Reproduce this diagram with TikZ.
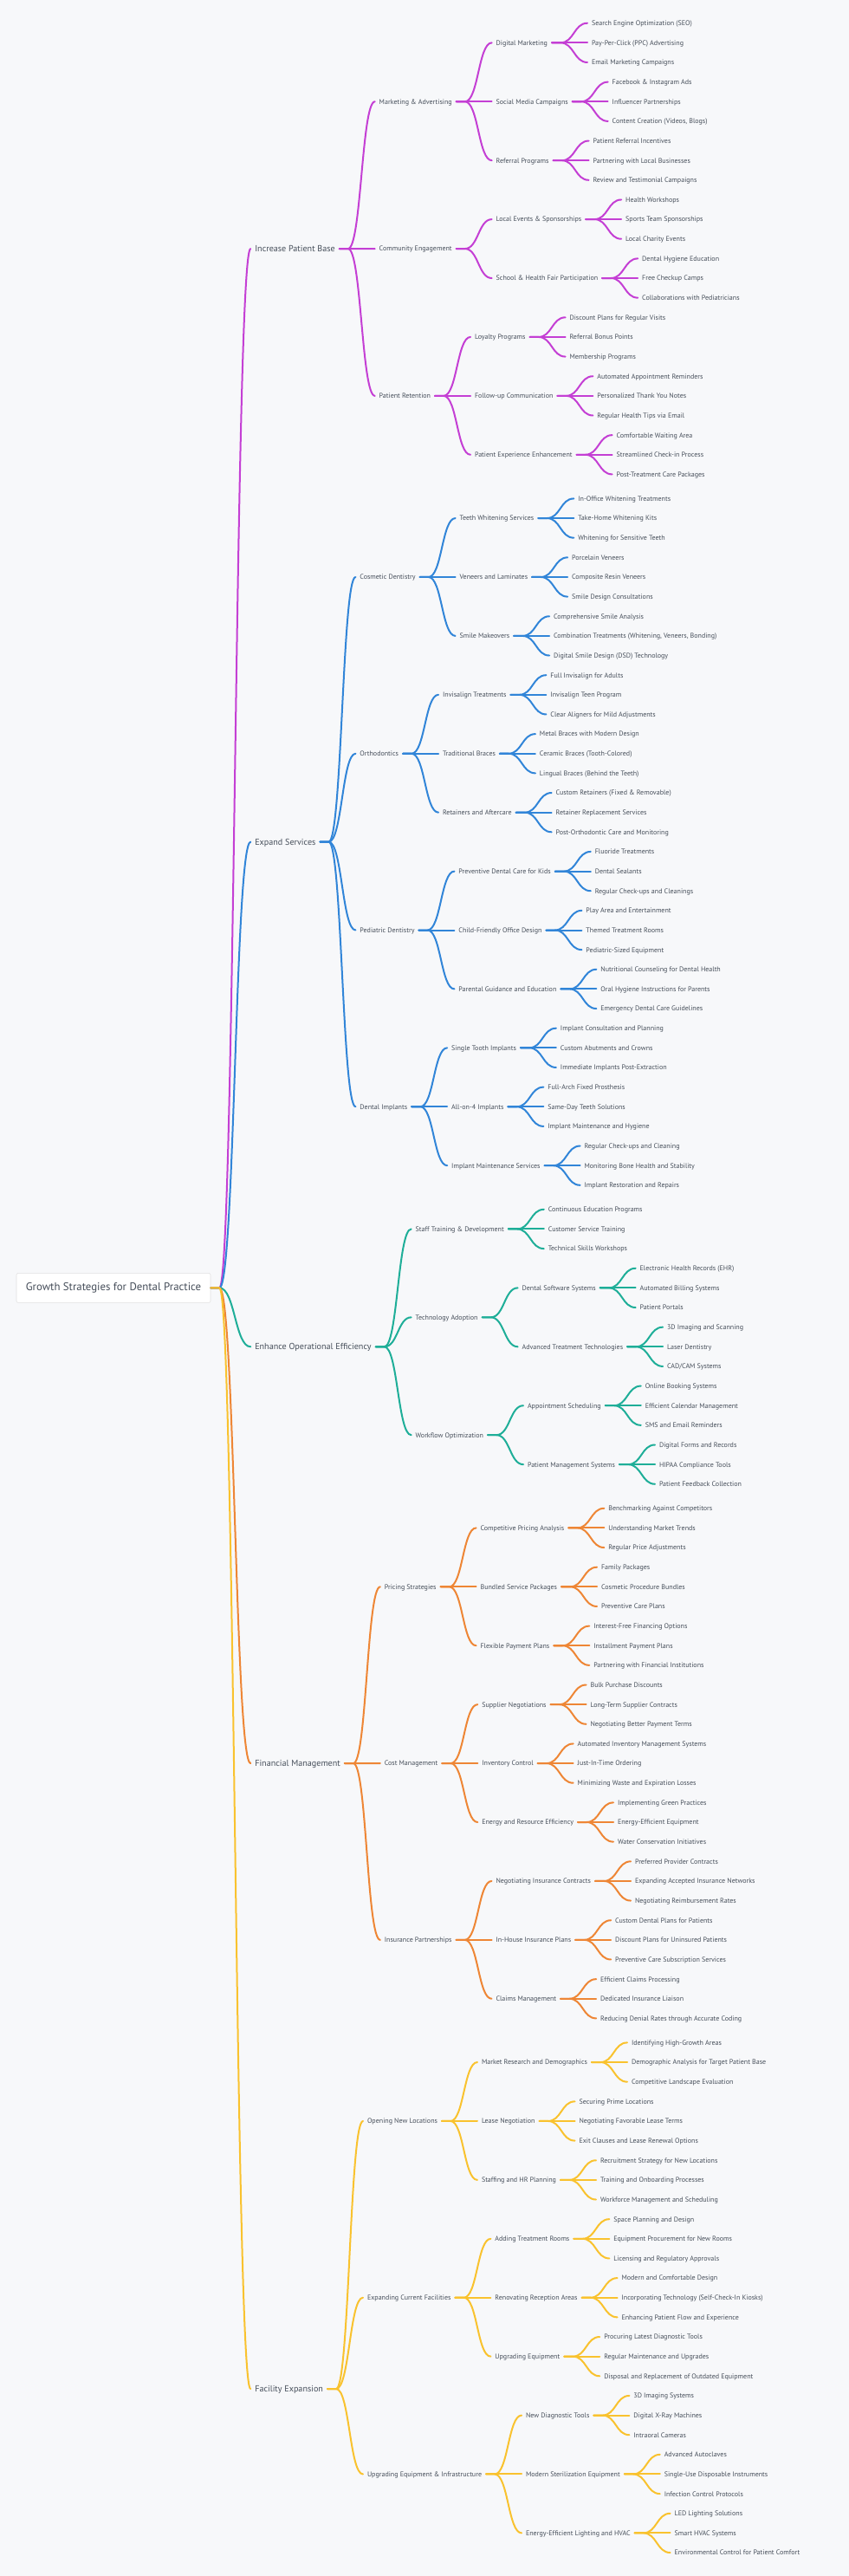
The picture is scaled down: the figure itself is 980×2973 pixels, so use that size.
\documentclass[tikz,border=0pt]{standalone}
\usepackage{fontspec}
\setmainfont{PT Sans}
\definecolor{bgc}{HTML}{F7F8FA}
\definecolor{txtc}{HTML}{464E5A}
\definecolor{purp}{HTML}{C43FD4}
\definecolor{blu}{HTML}{3185D8}
\definecolor{tea}{HTML}{1EAE98}
\definecolor{ora}{HTML}{EE8635}
\definecolor{yel}{HTML}{F9C22E}
\tikzset{
  txt/.style={font=\fontsize{6}{7}\selectfont, text=txtc, inner xsep=3.75pt, inner ysep=0.5pt, text height=4.3pt, text depth=0pt, outer sep=0pt},
  txtI/.style={txt, font=\fontsize{7.6}{9}\selectfont, text height=5.4pt},
  lnk/.style={line width=1.5pt, line cap=round},
  rootbox/.style={draw=black!12, fill=white, rounded corners=1.5pt, minimum width=168pt, minimum height=25.5pt, font=\fontsize{9.6}{11}\selectfont, text=txtc, inner sep=0pt}
}
% child node: #1 parent, #2 name, #3 leaf index, #4 group, #5 colour, #6 text
\newcommand\kid[6]{%
  \coordinate (yy) at (0,{26.7+(#3)*22.64+(#4)*5.35});
  \node[txt, anchor=west, xshift=30.75pt] (#2) at (#1.east |- yy) {#6};
  \draw[lnk, draw=#5] (#1.east) -- ++(7.5pt,0) .. controls +(11.6pt,0) and +(-11.6pt,0) .. (#2.west);
}
% three leaves under #1
\newcommand\leaves[7]{%
  \kid{#1}{#1a}{#2}{#3}{#4}{#5}
  \kid{#1}{#1b}{#2+1}{#3}{#4}{#6}
  \kid{#1}{#1c}{#2+2}{#3}{#4}{#7}}
% first-level node: #1 name, #2 y (px), #3 colour, #4 text
\newcommand\kidI[4]{%
  \coordinate (yy) at (0,#2);
  \node[txtI, anchor=west, xshift=34.5pt] (#1) at (root.east |- yy) {#4};
  \draw[lnk, draw=#3] (root.east) -- ++(7.5pt,0) .. controls +(13.5pt,0) and +(-13.5pt,0) .. (#1.west);
}
\begin{document}
\begin{tikzpicture}[x=0.75pt, y=-0.75pt]
\fill[bgc] (0,0) rectangle (980,2973);
\useasboundingbox (0,0) rectangle (980,2973);
\node[rootbox] (root) at (131,1486.4) {Growth Strategies for Dental Practice};

% ---------- Increase Patient Base ----------
\kidI{A}{287.06}{purp}{Increase Patient Base}
\kid{A}{A1}{4}{0}{purp}{Marketing \& Advertising}
\kid{A1}{A11}{1}{0}{purp}{Digital Marketing}
\leaves{A11}{0}{0}{purp}{Search Engine Optimization (SEO)}{Pay-Per-Click (PPC) Advertising}{Email Marketing Campaigns}
\kid{A1}{A12}{4}{0}{purp}{Social Media Campaigns}
\leaves{A12}{3}{0}{purp}{Facebook \& Instagram Ads}{Influencer Partnerships}{Content Creation (Videos, Blogs)}
\kid{A1}{A13}{7}{0}{purp}{Referral Programs}
\leaves{A13}{6}{0}{purp}{Patient Referral Incentives}{Partnering with Local Businesses}{Review and Testimonial Campaigns}
\kid{A}{A2}{11.5}{0}{purp}{Community Engagement}
\kid{A2}{A21}{10}{0}{purp}{Local Events \& Sponsorships}
\leaves{A21}{9}{0}{purp}{Health Workshops}{Sports Team Sponsorships}{Local Charity Events}
\kid{A2}{A22}{13}{0}{purp}{School \& Health Fair Participation}
\leaves{A22}{12}{0}{purp}{Dental Hygiene Education}{Free Checkup Camps}{Collaborations with Pediatricians}
\kid{A}{A3}{19}{0}{purp}{Patient Retention}
\kid{A3}{A31}{16}{0}{purp}{Loyalty Programs}
\leaves{A31}{15}{0}{purp}{Discount Plans for Regular Visits}{Referral Bonus Points}{Membership Programs}
\kid{A3}{A32}{19}{0}{purp}{Follow-up Communication}
\leaves{A32}{18}{0}{purp}{Automated Appointment Reminders}{Personalized Thank You Notes}{Regular Health Tips via Email}
\kid{A3}{A33}{22}{0}{purp}{Patient Experience Enhancement}
\leaves{A33}{21}{0}{purp}{Comfortable Waiting Area}{Streamlined Check-in Process}{Post-Treatment Care Packages}

% ---------- Expand Services ----------
\kidI{B}{971.6}{blu}{Expand Services}
\kid{B}{B1}{28}{1}{blu}{Cosmetic Dentistry}
\kid{B1}{B11}{25}{1}{blu}{Teeth Whitening Services}
\leaves{B11}{24}{1}{blu}{In-Office Whitening Treatments}{Take-Home Whitening Kits}{Whitening for Sensitive Teeth}
\kid{B1}{B12}{28}{1}{blu}{Veneers and Laminates}
\leaves{B12}{27}{1}{blu}{Porcelain Veneers}{Composite Resin Veneers}{Smile Design Consultations}
\kid{B1}{B13}{31}{1}{blu}{Smile Makeovers}
\leaves{B13}{30}{1}{blu}{Comprehensive Smile Analysis}{Combination Treatments (Whitening, Veneers, Bonding)}{Digital Smile Design (DSD) Technology}
\kid{B}{B2}{37}{1}{blu}{Orthodontics}
\kid{B2}{B21}{34}{1}{blu}{Invisalign Treatments}
\leaves{B21}{33}{1}{blu}{Full Invisalign for Adults}{Invisalign Teen Program}{Clear Aligners for Mild Adjustments}
\kid{B2}{B22}{37}{1}{blu}{Traditional Braces}
\leaves{B22}{36}{1}{blu}{Metal Braces with Modern Design}{Ceramic Braces (Tooth-Colored)}{Lingual Braces (Behind the Teeth)}
\kid{B2}{B23}{40}{1}{blu}{Retainers and Aftercare}
\leaves{B23}{39}{1}{blu}{Custom Retainers (Fixed \& Removable)}{Retainer Replacement Services}{Post-Orthodontic Care and Monitoring}
\kid{B}{B3}{46}{1}{blu}{Pediatric Dentistry}
\kid{B3}{B31}{43}{1}{blu}{Preventive Dental Care for Kids}
\leaves{B31}{42}{1}{blu}{Fluoride Treatments}{Dental Sealants}{Regular Check-ups and Cleanings}
\kid{B3}{B32}{46}{1}{blu}{Child-Friendly Office Design}
\leaves{B32}{45}{1}{blu}{Play Area and Entertainment}{Themed Treatment Rooms}{Pediatric-Sized Equipment}
\kid{B3}{B33}{49}{1}{blu}{Parental Guidance and Education}
\leaves{B33}{48}{1}{blu}{Nutritional Counseling for Dental Health}{Oral Hygiene Instructions for Parents}{Emergency Dental Care Guidelines}
\kid{B}{B4}{55}{1}{blu}{Dental Implants}
\kid{B4}{B41}{52}{1}{blu}{Single Tooth Implants}
\leaves{B41}{51}{1}{blu}{Implant Consultation and Planning}{Custom Abutments and Crowns}{Immediate Implants Post-Extraction}
\kid{B4}{B42}{55}{1}{blu}{All-on-4 Implants}
\leaves{B42}{54}{1}{blu}{Full-Arch Fixed Prosthesis}{Same-Day Teeth Solutions}{Implant Maintenance and Hygiene}
\kid{B4}{B43}{58}{1}{blu}{Implant Maintenance Services}
\leaves{B43}{57}{1}{blu}{Regular Check-ups and Cleaning}{Monitoring Bone Health and Stability}{Implant Restoration and Repairs}

% ---------- Enhance Operational Efficiency ----------
\kidI{C}{1554.3}{tea}{Enhance Operational Efficiency}
\kid{C}{C1}{61}{2}{tea}{Staff Training \& Development}
\leaves{C1}{60}{2}{tea}{Continuous Education Programs}{Customer Service Training}{Technical Skills Workshops}
\kid{C}{C2}{65.5}{2}{tea}{Technology Adoption}
\kid{C2}{C21}{64}{2}{tea}{Dental Software Systems}
\leaves{C21}{63}{2}{tea}{Electronic Health Records (EHR)}{Automated Billing Systems}{Patient Portals}
\kid{C2}{C22}{67}{2}{tea}{Advanced Treatment Technologies}
\leaves{C22}{66}{2}{tea}{3D Imaging and Scanning}{Laser Dentistry}{CAD/CAM Systems}
\kid{C}{C3}{71.5}{2}{tea}{Workflow Optimization}
\kid{C3}{C31}{70}{2}{tea}{Appointment Scheduling}
\leaves{C31}{69}{2}{tea}{Online Booking Systems}{Efficient Calendar Management}{SMS and Email Reminders}
\kid{C3}{C32}{73}{2}{tea}{Patient Management Systems}
\leaves{C32}{72}{2}{tea}{Digital Forms and Records}{HIPAA Compliance Tools}{Patient Feedback Collection}

% ---------- Financial Management ----------
\kidI{D}{2035.07}{ora}{Financial Management}
\kid{D}{D1}{79}{3}{ora}{Pricing Strategies}
\kid{D1}{D11}{76}{3}{ora}{Competitive Pricing Analysis}
\leaves{D11}{75}{3}{ora}{Benchmarking Against Competitors}{Understanding Market Trends}{Regular Price Adjustments}
\kid{D1}{D12}{79}{3}{ora}{Bundled Service Packages}
\leaves{D12}{78}{3}{ora}{Family Packages}{Cosmetic Procedure Bundles}{Preventive Care Plans}
\kid{D1}{D13}{82}{3}{ora}{Flexible Payment Plans}
\leaves{D13}{81}{3}{ora}{Interest-Free Financing Options}{Installment Payment Plans}{Partnering with Financial Institutions}
\kid{D}{D2}{88}{3}{ora}{Cost Management}
\kid{D2}{D21}{85}{3}{ora}{Supplier Negotiations}
\leaves{D21}{84}{3}{ora}{Bulk Purchase Discounts}{Long-Term Supplier Contracts}{Negotiating Better Payment Terms}
\kid{D2}{D22}{88}{3}{ora}{Inventory Control}
\leaves{D22}{87}{3}{ora}{Automated Inventory Management Systems}{Just-In-Time Ordering}{Minimizing Waste and Expiration Losses}
\kid{D2}{D23}{91}{3}{ora}{Energy and Resource Efficiency}
\leaves{D23}{90}{3}{ora}{Implementing Green Practices}{Energy-Efficient Equipment}{Water Conservation Initiatives}
\kid{D}{D3}{97}{3}{ora}{Insurance Partnerships}
\kid{D3}{D31}{94}{3}{ora}{Negotiating Insurance Contracts}
\leaves{D31}{93}{3}{ora}{Preferred Provider Contracts}{Expanding Accepted Insurance Networks}{Negotiating Reimbursement Rates}
\kid{D3}{D32}{97}{3}{ora}{In-House Insurance Plans}
\leaves{D32}{96}{3}{ora}{Custom Dental Plans for Patients}{Discount Plans for Uninsured Patients}{Preventive Care Subscription Services}
\kid{D3}{D33}{100}{3}{ora}{Claims Management}
\leaves{D33}{99}{3}{ora}{Efficient Claims Processing}{Dedicated Insurance Liaison}{Reducing Denial Rates through Accurate Coding}

% ---------- Facility Expansion ----------
\kidI{E}{2757}{yel}{Facility Expansion}
\kid{E}{E1}{106}{4}{yel}{Opening New Locations}
\kid{E1}{E11}{103}{4}{yel}{Market Research and Demographics}
\leaves{E11}{102}{4}{yel}{Identifying High-Growth Areas}{Demographic Analysis for Target Patient Base}{Competitive Landscape Evaluation}
\kid{E1}{E12}{106}{4}{yel}{Lease Negotiation}
\leaves{E12}{105}{4}{yel}{Securing Prime Locations}{Negotiating Favorable Lease Terms}{Exit Clauses and Lease Renewal Options}
\kid{E1}{E13}{109}{4}{yel}{Staffing and HR Planning}
\leaves{E13}{108}{4}{yel}{Recruitment Strategy for New Locations}{Training and Onboarding Processes}{Workforce Management and Scheduling}
\kid{E}{E2}{115}{4}{yel}{Expanding Current Facilities}
\kid{E2}{E21}{112}{4}{yel}{Adding Treatment Rooms}
\leaves{E21}{111}{4}{yel}{Space Planning and Design}{Equipment Procurement for New Rooms}{Licensing and Regulatory Approvals}
\kid{E2}{E22}{115}{4}{yel}{Renovating Reception Areas}
\leaves{E22}{114}{4}{yel}{Modern and Comfortable Design}{Incorporating Technology (Self-Check-In Kiosks)}{Enhancing Patient Flow and Experience}
\kid{E2}{E23}{118}{4}{yel}{Upgrading Equipment}
\leaves{E23}{117}{4}{yel}{Procuring Latest Diagnostic Tools}{Regular Maintenance and Upgrades}{Disposal and Replacement of Outdated Equipment}
\kid{E}{E3}{124}{4}{yel}{Upgrading Equipment \& Infrastructure}
\kid{E3}{E31}{121}{4}{yel}{New Diagnostic Tools}
\leaves{E31}{120}{4}{yel}{3D Imaging Systems}{Digital X-Ray Machines}{Intraoral Cameras}
\kid{E3}{E32}{124}{4}{yel}{Modern Sterilization Equipment}
\leaves{E32}{123}{4}{yel}{Advanced Autoclaves}{Single-Use Disposable Instruments}{Infection Control Protocols}
\kid{E3}{E33}{127}{4}{yel}{Energy-Efficient Lighting and HVAC}
\leaves{E33}{126}{4}{yel}{LED Lighting Solutions}{Smart HVAC Systems}{Environmental Control for Patient Comfort}
\end{tikzpicture}
\end{document}
